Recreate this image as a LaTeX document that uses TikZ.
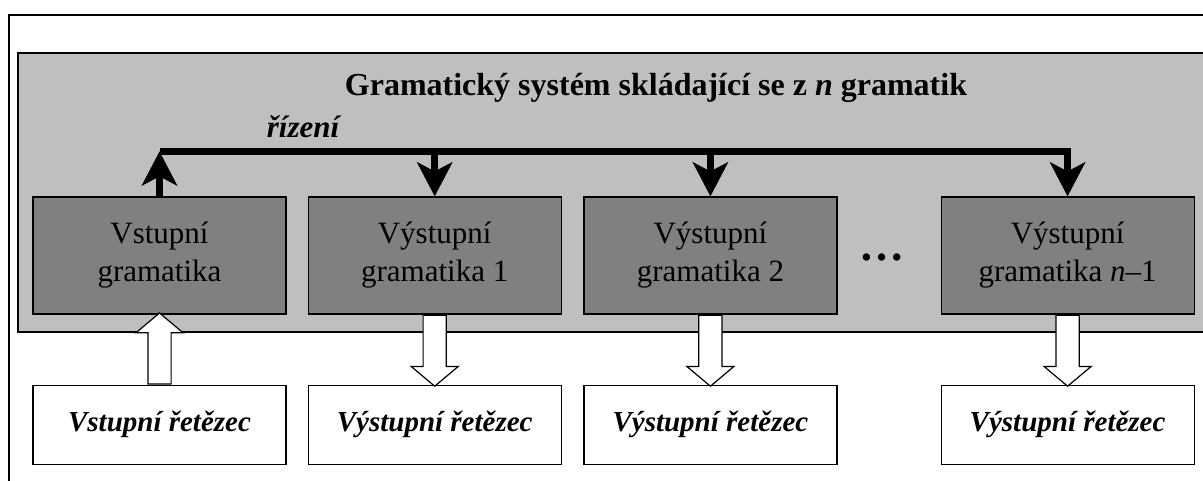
\documentclass[tikz,border=0pt]{standalone}
\usepackage{fontspec}
\setmainfont{Liberation Serif}
\usepackage{xcolor}
\usetikzlibrary{positioning, arrows.meta, shapes.arrows}
\definecolor{panel}{gray}{0.75}
\definecolor{gbox}{gray}{0.5}

\begin{document}
\begin{tikzpicture}[x=1pt, y=-1pt, node distance = 21pt,
        gram/.style={draw, line width=1.2pt, fill=gbox, minimum width=253pt, minimum height=117pt, inner sep=0pt, align=center, font=\fontsize{31}{38}\selectfont},
        chain/.style={draw, line width=1.2pt, fill=white, minimum width=253pt, minimum height=79pt, inner sep=0pt, font=\fontsize{29}{34}\selectfont\bfseries\itshape},
        ctrl/.style={line width=7pt, -{Stealth[length=34pt, width=35pt, inset=9pt]}},
        hollow/.style={single arrow, draw, line width=1.2pt, fill=white, minimum height=71pt, single arrow head extend=12pt, single arrow tip angle=100, inner sep=11pt}]
        \useasboundingbox (0,0) rectangle (1203,480);
        %\tikzset{label/.style={font=\small}}
        \draw[line width=1.3pt] (9,15) rectangle (1230,500);
        \draw[line width=1.3pt, fill=panel] (18,53) rectangle (1230,332);

        \node[font=\fontsize{32}{38}\selectfont\bfseries, anchor=base] (title) at (656,95) {Gramatický systém skládající se z \textit{n} gramatik};

        \node[gram] (g0) at (159.5,255.5) {Vstupní\\gramatika};
        \node[gram] (g1) [right = of g0] {Výstupní\\gramatika 1};
        \node[gram] (g2) [right = 21.5pt of g1] {Výstupní\\gramatika 2};
        \node[gram] (g3) [right = 103pt of g2] {Výstupní\\gramatika \textit{n}–1};
        \node[font=\fontsize{45}{45}\selectfont\bfseries, anchor=base] (dots) at (882,260) {…};

        \node[chain] (r0) [below = 70pt of g0] {Vstupní řetězec};
        \node[chain] (r1) [below = 70pt of g1] {Výstupní řetězec};
        \node[chain] (r2) [below = 70pt of g2] {Výstupní řetězec};
        \node[chain] (r3) [below = 70pt of g3] {Výstupní řetězec};

        \coordinate[above = 45pt of g0.north] (c0);
        \node[font=\fontsize{31}{36}\selectfont\bfseries\itshape, anchor=base] (rizeni) at (303,137) {řízení};

        \draw[ctrl] (g0.north) -- (c0);
        \draw[ctrl] (c0) -| (g3.north);
        \draw[ctrl] (c0 -| g1.north) -- (g1.north);
        \draw[ctrl] (c0 -| g2.north) -- (g2.north);

        \node[hollow, shape border rotate=90, anchor=tail] (h0) at (r0.north) {};
        \node[hollow, shape border rotate=270, anchor=tail] (h1) at (g1.south) {};
        \node[hollow, shape border rotate=270, anchor=tail] (h2) at (g2.south) {};
        \node[hollow, shape border rotate=270, anchor=tail] (h3) at (g3.south) {};

    \end{tikzpicture}
\end{document}
